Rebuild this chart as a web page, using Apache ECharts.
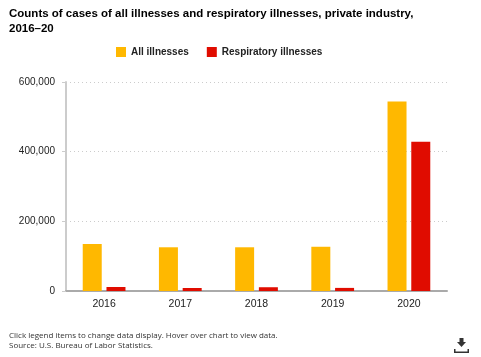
<!DOCTYPE html>
<html><head><meta charset="utf-8">
<script src="https://cdn.jsdelivr.net/npm/echarts@6/dist/echarts.min.js"></script>
<style>html,body{margin:0;padding:0;background:#fff}#c{width:481px;height:357px}</style>
</head><body><div id="c"></div>
<script>
const years = ['2016','2017','2018','2019','2020'];
const allIllnesses = [135000, 125500, 125500, 127000, 544000];
const respiratoryIllnesses = [11500, 8700, 10800, 8900, 428700];
const yTicks = [0, 200000, 400000, 600000];

const chart = echarts.init(document.getElementById('c'));
const fmt = v => v.toLocaleString('en-US');
chart.setOption({
  animation: false,
  textStyle: { fontFamily: 'Liberation Sans, Arial, sans-serif' },
  title: {
    text: 'Counts of cases of all illnesses and respiratory illnesses, private industry,\n2016–20',
    left: 4, top: 1,
    textStyle: { fontSize: 11.5, fontWeight: 'bold', color: '#000', lineHeight: 15 }
  },
  legend: {
    data: ['All illnesses', 'Respiratory illnesses'],
    left: 111, top: 42, itemWidth: 10, itemHeight: 10, itemGap: 18,
    icon: 'rect',
    textStyle: { fontSize: 10, fontWeight: 'bold', color: '#222' }
  },
  grid: { left: 66, right: 34, top: 82, bottom: 66, containLabel: false },
  xAxis: {
    type: 'category', data: years,
    axisLine: { lineStyle: { color: '#aaa', width: 2 } },
    axisTick: { show: false },
    axisLabel: { fontSize: 10.5, color: '#222', margin: 8 }
  },
  yAxis: {
    type: 'value', min: 0, max: 600000, interval: 200000,
    axisLine: { show: true, lineStyle: { color: '#ccc', width: 2 } },
    axisTick: { show: true, length: 4, lineStyle: { color: '#ccc' } },
    axisLabel: { fontSize: 10, color: '#222', margin: 11, formatter: v => fmt(v) },
    splitLine: { lineStyle: { color: '#ccc', type: [1, 3] } }
  },
  series: [
    { name: 'All illnesses', type: 'bar', data: allIllnesses, barWidth: 19, barGap: '25%',
      itemStyle: { color: '#FFB800' } },
    { name: 'Respiratory illnesses', type: 'bar', data: respiratoryIllnesses, barWidth: 19,
      itemStyle: { color: '#E00C00' } }
  ],
  graphic: [
    { type: 'text', left: 9, top: 331, style: { text: 'Click legend items to change data display. Hover over chart to view data.\nSource: U.S. Bureau of Labor Statistics.', fontSize: 8, lineHeight: 10, fill: '#333', fontFamily: 'Open Sans, sans-serif' } },
    { type: 'group', left: 454, top: 338, children: [
      { type: 'rect', shape: { x: 5.5, y: 0, width: 4, height: 4 }, style: { fill: '#333' } },
      { type: 'polygon', shape: { points: [[3,4],[12,4],[7.5,9]] }, style: { fill: '#333' } },
      { type: 'rect', shape: { x: 0, y: 11, width: 1.5, height: 4 }, style: { fill: '#333' } },
      { type: 'rect', shape: { x: 0, y: 13.5, width: 15, height: 1.5 }, style: { fill: '#333' } },
      { type: 'rect', shape: { x: 13.5, y: 11, width: 1.5, height: 4 }, style: { fill: '#333' } }
    ]}
  ]
});
</script></body></html>
